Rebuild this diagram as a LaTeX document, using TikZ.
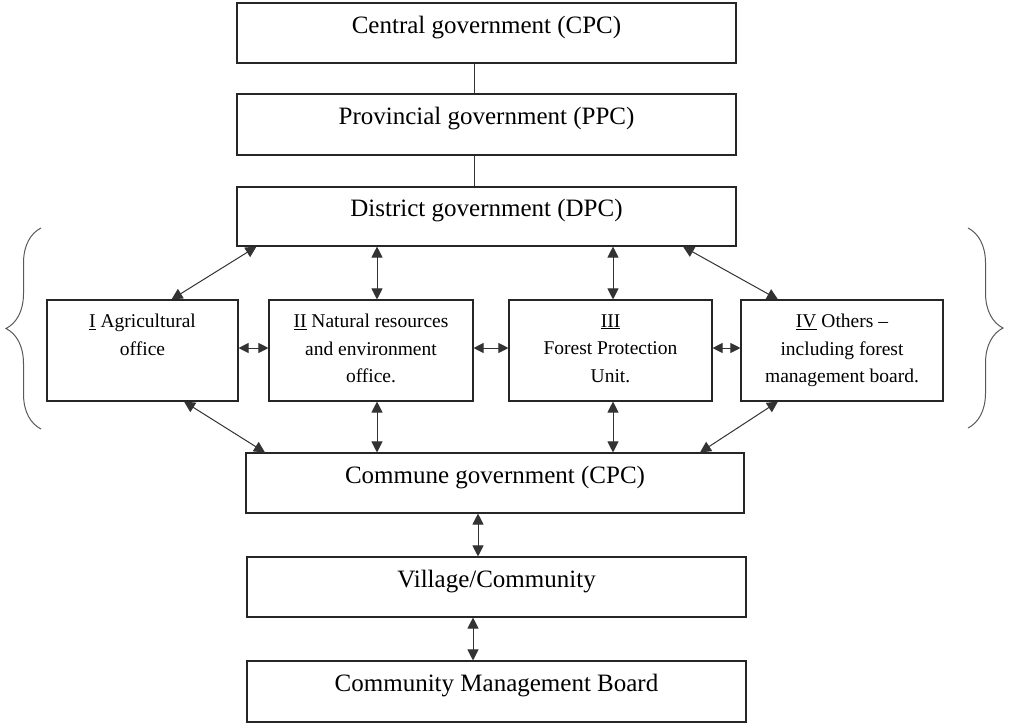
\documentclass[tikz,border=0pt]{standalone}
\usepackage{fontspec}
\setmainfont{Liberation Serif}
\usetikzlibrary{arrows.meta,decorations.pathreplacing}
\begin{document}
\begin{tikzpicture}[x=1pt,y=-1pt,
  wide/.style={draw=black!85, line width=1.1pt, minimum width=499pt, minimum height=60pt, inner sep=0pt},
  office/.style={draw=black!85, line width=1.1pt, minimum width=#1, minimum height=101pt, inner sep=0pt},
  bigtext/.style={font=\fontsize{25}{29}\selectfont, anchor=base, inner sep=0pt},
  smalltext/.style={font=\fontsize{19.5}{27.5}\selectfont, align=center, anchor=north, inner sep=0pt},
  link/.style={line width=1pt, draw=black!80},
  both/.style={link, {Triangle[length=11pt,width=11pt]}-{Triangle[length=11pt,width=11pt]}},
  bothshort/.style={link, {Triangle[length=10pt,width=10pt]}-{Triangle[length=10pt,width=10pt]}},
  bracket/.style={decorate, decoration={brace, amplitude=35pt}, line width=1pt, draw=black!65}]
\useasboundingbox (0,0) rectangle (1009,724);

% government levels
\node[wide] (cen)  at (486.5,33)    {};
\node[wide, minimum height=61pt] (prov) at (486.5,124.5) {};
\node[wide, minimum height=59pt] (dist) at (486.5,216.5) {};
\node[wide, minimum width=498pt] (com)  at (495,483)     {};
\node[wide] (vil)  at (496.5,587)   {};
\node[wide, minimum height=61pt] (cmb)  at (496.5,691.5) {};

\node[bigtext] (cent)  at (cen.center)  {Central government (CPC)};
\node[bigtext] (provt) at (prov.center) {Provincial government (PPC)};
\node[bigtext] (distt) at (dist.center) {District government (DPC)};
\node[bigtext] (comt)  at (com.center)  {Commune government (CPC)};
\node[bigtext] (vilt)  at (vil.center)  {Village/Community};
\node[bigtext] (cmbt)  at (cmb.center)  {Community Management Board};

% district offices
\node[office=191pt] (ag)  at (142.5,350.5) {};
\node[office=204pt] (nat) at (371,350.5)   {};
\node[office=203pt] (fpu) at (610.5,350.5) {};
\node[office=202pt] (oth) at (842,350.5)   {};

\node[smalltext] (agt)  at ([yshift=-14.7pt]ag.north)  {\underline{I} Agricultural\\office};
\node[smalltext] (natt) at ([yshift=-14.7pt]nat.north) {\underline{II} Natural resources\\and environment\\office.};
\node[smalltext] (fput) at ([yshift=-14.7pt]fpu.north) {\underline{III}\\Forest Protection\\Unit.};
\node[smalltext] (otht) at ([yshift=-14.7pt]oth.north) {\underline{IV} Others –\\including forest\\management board.};

% plain links at the top
\draw[link] ([xshift=-12.5pt]cen.south)  -- ([xshift=-12.5pt]prov.north);
\draw[link] ([xshift=-12.5pt]prov.south) -- ([xshift=-12.5pt]dist.north);

% district to offices
\draw[both] ([xshift=-230pt]dist.south) -- ([xshift=29pt]ag.north);
\draw[both] ([xshift=-109.5pt]dist.south) -- ([xshift=6pt]nat.north);
\draw[both] ([xshift=126.5pt]dist.south) -- ([xshift=2.5pt]fpu.north);
\draw[both] ([xshift=196.5pt]dist.south) -- ([xshift=-64pt]oth.north);

% between offices
\draw[bothshort] ([yshift=2.5pt]ag.east)  -- ([yshift=2.5pt]nat.west);
\draw[bothshort] ([yshift=2.5pt]nat.east) -- ([yshift=2.5pt]fpu.west);
\draw[bothshort] ([yshift=2.5pt]fpu.east) -- ([yshift=2.5pt]oth.west);

% offices to commune
\draw[both] ([xshift=41.5pt]ag.south) -- ([xshift=-230pt]com.north);
\draw[both] ([xshift=6pt]nat.south)   -- ([xshift=-118pt]com.north);
\draw[both] ([xshift=2.5pt]fpu.south) -- ([xshift=118pt]com.north);
\draw[both] ([xshift=-64pt]oth.south) -- ([xshift=205pt]com.north);

% lower levels
\draw[both] ([xshift=-17pt]com.south)   -- ([xshift=-18.5pt]vil.north);
\draw[both] ([xshift=-23.5pt]vil.south) -- ([xshift=-23.5pt]cmb.north);

% braces around the offices
\coordinate (lb1) at (41,429);
\coordinate (lb2) at (41,228);
\coordinate (rb1) at (968,228);
\coordinate (rb2) at (968,428);
\draw[bracket] (lb1) -- (lb2);
\draw[bracket] (rb1) -- (rb2);
\end{tikzpicture}
\end{document}
